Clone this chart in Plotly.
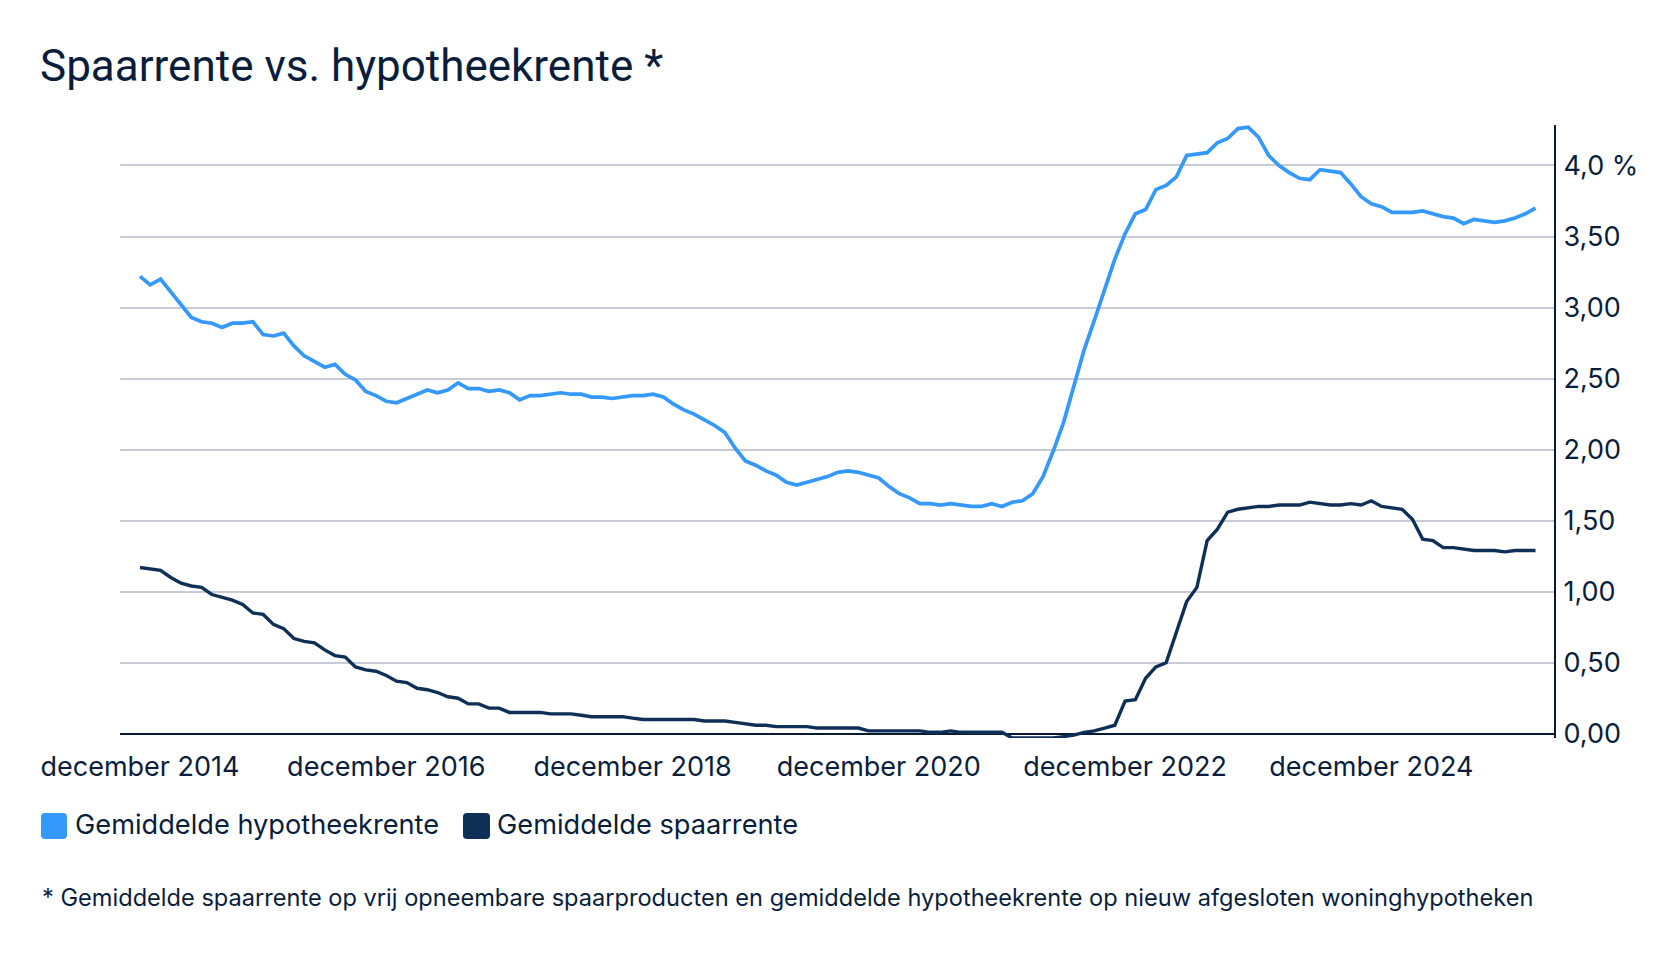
import plotly.graph_objects as go

W, H = 1680, 954
YMIN, YMAX = -0.03, 4.285
PX_PER_UNIT = 142
B = 216
PH = (YMAX - YMIN) * PX_PER_UNIT
T = H - B - PH
L, R = 120, 126
PW = W - L - R

TEXT = "#0A1E3C"
BLUE = "#3598FB"
NAVY = "#0E2F56"
AXIS = "#0A1A33"
GRID = "#C8CBD5"

month_names = ["januari", "februari", "maart", "april", "mei", "juni", "juli",
               "augustus", "september", "oktober", "november", "december"]
months = []
for k in range(137):
    m = (11 + k) % 12
    yr = 2014 + (11 + k) // 12
    months.append(f"{month_names[m]} {yr}")

hypotheekrente = [
    3.22, 3.16, 3.20, 3.11, 3.02, 2.93, 2.90, 2.89, 2.86, 2.89, 2.89, 2.90,
    2.81, 2.80, 2.82, 2.73, 2.66, 2.62, 2.58, 2.60, 2.53, 2.49, 2.41, 2.38,
    2.34, 2.33, 2.36, 2.39, 2.42, 2.40, 2.42, 2.47, 2.43, 2.43, 2.41, 2.42,
    2.40, 2.35, 2.38, 2.38, 2.39, 2.40, 2.39, 2.39, 2.37, 2.37, 2.36, 2.37,
    2.38, 2.38, 2.39, 2.37, 2.32, 2.28, 2.25, 2.21, 2.17, 2.12, 2.01, 1.92,
    1.89, 1.85, 1.82, 1.77, 1.75, 1.77, 1.79, 1.81, 1.84, 1.85, 1.84, 1.82,
    1.80, 1.74, 1.69, 1.66, 1.62, 1.62, 1.61, 1.62, 1.61, 1.60, 1.60, 1.62,
    1.60, 1.63, 1.64, 1.69, 1.81, 1.99, 2.19, 2.44, 2.70, 2.91, 3.12, 3.34,
    3.52, 3.66, 3.69, 3.83, 3.86, 3.92, 4.07, 4.08, 4.09, 4.16, 4.19, 4.26,
    4.27, 4.20, 4.07, 4.00, 3.95, 3.91, 3.90, 3.97, 3.96, 3.95, 3.87, 3.78,
    3.73, 3.71, 3.67, 3.67, 3.67, 3.68, 3.66, 3.64, 3.63, 3.59, 3.62, 3.61,
    3.60, 3.61, 3.63, 3.66, 3.70,
]

spaarrente = [
    1.17, 1.16, 1.15, 1.10, 1.06, 1.04, 1.03, 0.98, 0.96, 0.94, 0.91, 0.85,
    0.84, 0.77, 0.74, 0.67, 0.65, 0.64, 0.59, 0.55, 0.54, 0.47, 0.45, 0.44,
    0.41, 0.37, 0.36, 0.32, 0.31, 0.29, 0.26, 0.25, 0.21, 0.21, 0.18, 0.18,
    0.15, 0.15, 0.15, 0.15, 0.14, 0.14, 0.14, 0.13, 0.12, 0.12, 0.12, 0.12,
    0.11, 0.10, 0.10, 0.10, 0.10, 0.10, 0.10, 0.09, 0.09, 0.09, 0.08, 0.07,
    0.06, 0.06, 0.05, 0.05, 0.05, 0.05, 0.04, 0.04, 0.04, 0.04, 0.04, 0.02,
    0.02, 0.02, 0.02, 0.02, 0.02, 0.01, 0.01, 0.02, 0.01, 0.01, 0.01, 0.01,
    0.01, -0.03, -0.03, -0.03, -0.03, -0.03, -0.02, -0.01, 0.01, 0.02, 0.04, 0.06,
    0.23, 0.24, 0.39, 0.47, 0.50, 0.71, 0.93, 1.03, 1.36, 1.44, 1.56, 1.58,
    1.59, 1.60, 1.60, 1.61, 1.61, 1.61, 1.63, 1.62, 1.61, 1.61, 1.62, 1.61,
    1.64, 1.60, 1.59, 1.58, 1.51, 1.37, 1.36, 1.31, 1.31, 1.30, 1.29, 1.29,
    1.29, 1.28, 1.29, 1.29, 1.29,
]

x_tick_labels = ["december 2014", "december 2016", "december 2018",
                 "december 2020", "december 2022", "december 2024"]
y_tick_values = [0, 0.5, 1.0, 1.5, 2.0, 2.5, 3.0, 3.5, 4.0]
y_tick_labels = ["0,00", "0,50", "1,00", "1,50", "2,00", "2,50", "3,00", "3,50", "4,0 %"]

series_names = ["Gemiddelde hypotheekrente", "Gemiddelde spaarrente"]
series_colors = [BLUE, NAVY]

title_text = "Spaarrente vs. hypotheekrente *"
footnote_text = ("* Gemiddelde spaarrente op vrij opneembare spaarproducten en gemiddelde "
                 "hypotheekrente op nieuw afgesloten woninghypotheken")

BODY_FONT = "Inter, Roboto, sans-serif"


def px_x(px):
    return (px - L) / PW


def px_y(py):
    return (H - B - py) / PH


fig = go.Figure()
fig.add_trace(go.Scatter(x=months, y=hypotheekrente, mode="lines", name=series_names[0],
                         line=dict(color=BLUE, width=3.7), showlegend=False))
fig.add_trace(go.Scatter(x=months, y=spaarrente, mode="lines", name=series_names[1],
                         line=dict(color=NAVY, width=3.4), showlegend=False))

# custom legend (rounded square swatches)
shapes = []
annotations = []
legend_items = [(41, 67, 73), (463, 490, 495)]
for (sx0, sx1, tx), name, col in zip(legend_items, series_names, series_colors):
    y0p, y1p = 813, 839
    r = 4
    X0, X1 = px_x(sx0), px_x(sx1)
    Y0, Y1 = px_y(y1p), px_y(y0p)
    rx, ry = r / PW, r / PH
    path = (f"M{X0+rx},{Y0} L{X1-rx},{Y0} Q{X1},{Y0} {X1},{Y0+ry} "
            f"L{X1},{Y1-ry} Q{X1},{Y1} {X1-rx},{Y1} L{X0+rx},{Y1} "
            f"Q{X0},{Y1} {X0},{Y1-ry} L{X0},{Y0+ry} Q{X0},{Y0} {X0+rx},{Y0} Z")
    shapes.append(dict(type="path", xref="paper", yref="paper", path=path,
                       fillcolor=col, line=dict(width=0)))
    annotations.append(dict(text=name, xref="paper", yref="paper", x=px_x(tx), y=px_y(824),
                            xanchor="left", yanchor="middle", showarrow=False,
                            font=dict(family=BODY_FONT, size=27.2, color=TEXT)))

annotations.append(dict(text=footnote_text, xref="paper", yref="paper", x=px_x(40), y=px_y(897),
                        xanchor="left", yanchor="middle", showarrow=False,
                        font=dict(family=BODY_FONT, size=23.6, color=TEXT)))

fig.update_layout(
    width=W, height=H,
    margin=dict(l=L, r=R, t=T, b=B, pad=0),
    paper_bgcolor="white", plot_bgcolor="white",
    title=dict(text=title_text, xref="container", yref="container",
               x=40 / W, xanchor="left", y=1 - 66 / H, yanchor="middle",
               font=dict(family="Roboto, sans-serif", size=44, color=TEXT)),
    shapes=shapes,
    annotations=annotations,
    showlegend=False,
    xaxis=dict(
        type="category", range=[-1.95, 137.8],
        tickmode="array", tickvals=x_tick_labels, ticktext=x_tick_labels,
        showgrid=False, showline=False, zeroline=False, ticks="",
        tickfont=dict(family=BODY_FONT, size=27, color=TEXT),
        ticklabelstandoff=10,
    ),
    yaxis=dict(
        side="right", range=[YMIN, YMAX],
        tickmode="array", tickvals=y_tick_values, ticktext=y_tick_labels,
        showgrid=True, gridcolor=GRID, gridwidth=1.5,
        zeroline=True, zerolinecolor=AXIS, zerolinewidth=2.2,
        showline=True, linecolor=AXIS, linewidth=2.2, ticks="",
        tickfont=dict(family=BODY_FONT, size=27, color=TEXT),
        ticklabelstandoff=2,
    ),
)

fig.write_html("out.html")
